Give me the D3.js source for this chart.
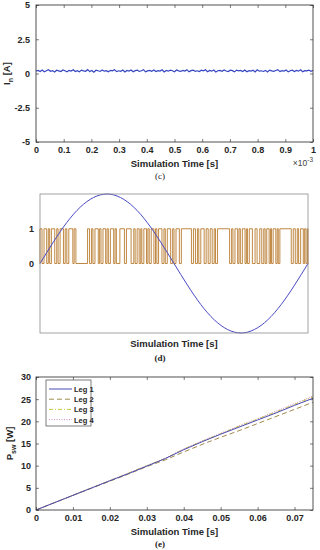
<!DOCTYPE html>
<html lang="en">
<head>
<meta charset="utf-8">
<title>Neutral current, PWM and switching losses</title>
<script src="https://cdn.jsdelivr.net/npm/d3@7"></script>
<style>
  body { margin: 0; background: #fff; }
  svg { display: block; font-family: "Liberation Sans", Arial, sans-serif; }
  .tick text { font-size: 9px; font-weight: bold; fill: #262626; }
  .lbl { font-size: 9.5px; font-weight: bold; fill: #262626; }
  .cap { font-family: "Liberation Serif", "Times New Roman", serif; font-size: 9px; fill: #222; }
</style>
</head>
<body>
<svg id="chart" width="320" height="550"></svg>
<script>
// (c) neutral current, time in units of 1e-3 s
var cTicksX = [0, 0.1, 0.2, 0.3, 0.4, 0.5, 0.6, 0.7, 0.8, 0.9, 1];
var cTicksY = [-5, -2.5, 0, 2.5, 5];
var cTickLabY = ["-5", "-2.5", "0", "2.5", "5"];
var cNoise = [0.18, 0.22, 0.15, 0.25, 0.12, 0.20, 0.27, 0.16, 0.21, 0.11, 0.24, 0.19, 0.14, 0.26, 0.20, 0.12,
  0.23, 0.18, 0.27, 0.15, 0.21, 0.13, 0.25, 0.19, 0.16, 0.28, 0.14, 0.22, 0.10, 0.24, 0.20, 0.15, 0.26,
  0.17, 0.21, 0.12, 0.23, 0.19, 0.27, 0.14, 0.20, 0.16, 0.25, 0.11, 0.22, 0.18, 0.26, 0.13, 0.21, 0.24,
  0.15, 0.20, 0.28, 0.12, 0.19, 0.23, 0.16, 0.25, 0.14, 0.21, 0.18, 0.27, 0.11, 0.22, 0.17, 0.24, 0.20,
  0.13, 0.26, 0.19, 0.15, 0.23, 0.18, 0.28, 0.12, 0.21, 0.25, 0.16, 0.20, 0.14, 0.24, 0.19, 0.27, 0.13,
  0.22, 0.17, 0.25, 0.11, 0.20, 0.23, 0.16, 0.26, 0.18, 0.14, 0.24, 0.21, 0.12, 0.25, 0.19, 0.22, 0.15,
  0.26, 0.13, 0.21, 0.18, 0.24, 0.12, 0.27, 0.17, 0.20, 0.15, 0.23, 0.11, 0.25, 0.19, 0.16, 0.22, 0.28,
  0.14, 0.21, 0.18, 0.26, 0.12, 0.20, 0.24, 0.15, 0.23, 0.17, 0.27, 0.13, 0.21, 0.19, 0.25, 0.16, 0.22];

// (d) reference sine (ms) and PWM pulses [on, off] in ms
var dSineT = [0, 1, 2, 3, 4, 5, 6, 7, 8, 9, 10, 11, 12, 13, 14, 15, 16, 17, 18, 19, 20];
var dSineV = [0, 0.62, 1.18, 1.62, 1.90, 2.0, 1.90, 1.62, 1.18, 0.62, 0, -0.62, -1.18, -1.62, -1.90, -2.0,
  -1.90, -1.62, -1.18, -0.62, 0];
var dPulses = [[0.00, 0.15], [0.30, 0.50], [0.62, 0.72], [0.85, 1.10], [1.25, 1.35], [1.50, 1.75],
  [1.88, 2.00], [2.15, 2.45], [2.55, 2.68], [3.55, 3.70], [3.85, 3.95], [4.10, 4.35], [4.45, 4.55],
  [4.70, 4.90], [5.00, 5.10], [5.25, 5.50], [5.60, 5.70], [5.96, 6.30], [6.45, 6.80], [7.00, 7.10],
  [7.25, 7.40], [7.52, 7.60], [7.75, 7.95], [8.05, 8.15], [8.30, 8.50], [8.62, 8.72], [8.85, 9.10],
  [9.25, 9.35], [9.50, 9.75], [9.90, 10.00], [10.15, 10.40], [10.55, 11.30], [11.45, 11.60],
  [11.75, 11.85], [12.00, 12.25], [12.40, 12.55], [12.70, 12.85], [13.00, 13.10], [13.25, 14.15],
  [14.30, 14.40], [14.55, 14.75], [14.85, 14.95], [15.10, 15.30], [15.40, 15.48], [15.62, 15.85],
  [16.05, 16.20], [16.40, 16.55], [16.70, 16.80], [16.92, 17.10], [17.20, 17.28], [17.40, 17.60],
  [17.70, 17.78], [17.90, 18.75], [18.90, 19.05], [19.20, 19.30], [19.45, 19.65], [19.75, 19.85],
  [19.95, 20.00]];

// (e) switching losses
var eTime = [0, 0.005, 0.01, 0.015, 0.02, 0.025, 0.03, 0.035, 0.04, 0.045, 0.05, 0.055, 0.06, 0.065, 0.07, 0.075];
var eLeg1 = [0, 1.65, 3.3, 4.95, 6.6, 8.2, 9.9, 11.6, 13.6, 15.4, 17.1, 18.7, 20.3, 21.9, 23.6, 25.2];
var eLeg2 = [0, 1.65, 3.3, 4.9, 6.5, 8.1, 9.8, 11.3, 13.1, 14.8, 16.4, 17.9, 19.5, 21.1, 22.7, 24.3];
var eLeg3 = [0, 1.65, 3.3, 5.0, 6.6, 8.3, 10.0, 11.6, 13.7, 15.5, 17.2, 18.9, 20.5, 22.1, 23.8, 25.5];
var eLeg4 = [0, 1.7, 3.35, 5.0, 6.65, 8.35, 10.0, 11.7, 13.8, 15.6, 17.3, 19.0, 20.6, 22.3, 24.0, 25.7];
var eNames = ["Leg 1", "Leg 2", "Leg 3", "Leg 4"];
var eTicksX = [0, 0.01, 0.02, 0.03, 0.04, 0.05, 0.06, 0.07];
var eTicksY = [0, 5, 10, 15, 20, 25, 30];

var svg = d3.select("#chart");
var axisCol = "#262626";

function styleAxis(g, col) {
  g.selectAll(".domain").remove();
  g.selectAll(".tick line").attr("stroke", col).attr("stroke-width", 0.6);
}

function frame(x0, y0, x1, y1, col) {
  svg.append("rect").attr("x", x0).attr("y", y0).attr("width", x1 - x0).attr("height", y1 - y0)
    .attr("fill", "none").attr("stroke", col).attr("stroke-width", 0.8);
}

// ---------- (c) ----------
var cx = d3.scaleLinear().domain([0, 1]).range([36, 313]);
var cy = d3.scaleLinear().domain([-5, 5]).range([142, 5]);

svg.append("g").attr("transform", "translate(0,142)")
  .call(d3.axisBottom(cx).tickValues(cTicksX).tickSize(-3).tickPadding(5).tickFormat(d3.format("")))
  .call(styleAxis, axisCol);
svg.append("g").attr("transform", "translate(0,5)")
  .call(d3.axisTop(cx).tickValues(cTicksX).tickSize(-3).tickFormat(""))
  .call(styleAxis, axisCol);
svg.append("g").attr("transform", "translate(36,0)")
  .call(d3.axisLeft(cy).tickValues(cTicksY).tickSize(-3).tickPadding(6)
    .tickFormat(function(d, i) { return cTickLabY[i]; }))
  .call(styleAxis, axisCol);
svg.append("g").attr("transform", "translate(313,0)")
  .call(d3.axisRight(cy).tickValues(cTicksY).tickSize(-3).tickFormat(""))
  .call(styleAxis, axisCol);

svg.append("path").datum(cNoise)
  .attr("fill", "none").attr("stroke", "#3346c0").attr("stroke-width", 1.2)
  .attr("d", d3.line().x(function(d, i) { return cx(i / (cNoise.length - 1)); }).y(function(d) { return cy(d); }));
frame(36, 5, 313, 142, axisCol);

svg.append("text").attr("class", "lbl").attr("x", 174.5).attr("y", 167).attr("text-anchor", "middle")
  .text("Simulation Time [s]");
var mult = svg.append("text").attr("x", 313).attr("y", 166).attr("text-anchor", "end")
  .attr("font-size", 8.5).attr("fill", "#444");
mult.append("tspan").text("\u00d710");
mult.append("tspan").attr("dy", -4).attr("font-size", 6.5).text("-3");
var cyl = svg.append("text").attr("class", "lbl").attr("transform", "translate(10,73.5) rotate(-90)")
  .attr("text-anchor", "middle");
cyl.append("tspan").text("I");
cyl.append("tspan").attr("dy", 3).attr("font-size", 7).text("n");
cyl.append("tspan").attr("dy", -3).text(" [A]");
svg.append("text").attr("class", "cap").attr("x", 160).attr("y", 179).attr("text-anchor", "middle").text("(c)");

// ---------- (d) ----------
var dx = d3.scaleLinear().domain([0, 20]).range([40, 308]);
var dy = d3.scaleLinear().domain([-2, 2]).range([333, 194]);

svg.append("g").attr("transform", "translate(40,0)")
  .call(d3.axisLeft(dy).tickValues([0, 1]).tickSize(0).tickPadding(6).tickFormat(d3.format("d")))
  .call(styleAxis, axisCol);

var pwm = [];
dPulses.forEach(function(p) { pwm.push([p[0], 0], [p[0], 1], [p[1], 1], [p[1], 0]); });
svg.append("path").datum(pwm)
  .attr("fill", "none").attr("stroke", "#b97a2c").attr("stroke-width", 0.9)
  .attr("d", d3.line().x(function(d) { return dx(d[0]); }).y(function(d) { return dy(d[1]); }));
svg.append("path").datum(dSineT)
  .attr("fill", "none").attr("stroke", "#4a4ac4").attr("stroke-width", 1)
  .attr("d", d3.line().curve(d3.curveNatural)
    .x(function(d) { return dx(d); }).y(function(d, i) { return dy(dSineV[i]); }));
frame(40, 194, 308, 333, "#8c8c8c");

svg.append("text").attr("class", "lbl").attr("x", 174).attr("y", 347).attr("text-anchor", "middle")
  .text("Simulation Time [s]");
svg.append("text").attr("class", "cap").attr("x", 160).attr("y", 361).attr("text-anchor", "middle")
  .attr("font-weight", "bold").text("(d)");

// ---------- (e) ----------
var ex = d3.scaleLinear().domain([0, 0.075]).range([36, 313]);
var ey = d3.scaleLinear().domain([0, 30]).range([510, 377]);

svg.append("g").attr("transform", "translate(0,510)")
  .call(d3.axisBottom(ex).tickValues(eTicksX).tickSize(-3).tickPadding(5).tickFormat(d3.format("")))
  .call(styleAxis, axisCol);
svg.append("g").attr("transform", "translate(0,377)")
  .call(d3.axisTop(ex).tickValues(eTicksX).tickSize(-3).tickFormat(""))
  .call(styleAxis, axisCol);
svg.append("g").attr("transform", "translate(36,0)")
  .call(d3.axisLeft(ey).tickValues(eTicksY).tickSize(-3).tickPadding(5))
  .call(styleAxis, axisCol);
svg.append("g").attr("transform", "translate(313,0)")
  .call(d3.axisRight(ey).tickValues(eTicksY).tickSize(-3).tickFormat(""))
  .call(styleAxis, axisCol);

var eSeries = [eLeg1, eLeg2, eLeg3, eLeg4];
var eColors = ["#4b4bb4", "#a08a4c", "#c8c83c", "#d48ac8"];
var eDash = [null, "5,3", "4,2,1,2", "1,1.5"];
var eLine = d3.line().x(function(d, i) { return ex(eTime[i]); }).y(function(d) { return ey(d); });

[3, 2, 1, 0].forEach(function(k) {
  svg.append("path").datum(eSeries[k])
    .attr("fill", "none").attr("stroke", eColors[k]).attr("stroke-width", 1)
    .attr("stroke-dasharray", eDash[k]).attr("d", eLine);
});
frame(36, 377, 313, 510, axisCol);

// legend
var lg = svg.append("g").attr("transform", "translate(46,380)");
lg.append("rect").attr("width", 45).attr("height", 46).attr("fill", "#fff")
  .attr("stroke", axisCol).attr("stroke-width", 0.6);
eNames.forEach(function(n, k) {
  var yy = 9 + k * 10.2;
  lg.append("line").attr("x1", 3).attr("x2", 26).attr("y1", yy).attr("y2", yy)
    .attr("stroke", eColors[k]).attr("stroke-width", 1).attr("stroke-dasharray", eDash[k]);
  lg.append("text").attr("x", 28).attr("y", yy + 3).attr("font-size", 7.5).attr("font-weight", "bold")
    .attr("fill", axisCol).text(n);
});

svg.append("text").attr("class", "lbl").attr("x", 174.5).attr("y", 535).attr("text-anchor", "middle")
  .text("Simulation Time [s]");
var eyl = svg.append("text").attr("class", "lbl").attr("transform", "translate(13,443.5) rotate(-90)")
  .attr("text-anchor", "middle");
eyl.append("tspan").text("P");
eyl.append("tspan").attr("dy", 3).attr("font-size", 7).text("sw");
eyl.append("tspan").attr("dy", -3).text(" [W]");
svg.append("text").attr("class", "cap").attr("x", 160).attr("y", 547).attr("text-anchor", "middle")
  .attr("font-weight", "bold").text("(e)");
</script>
</body>
</html>
